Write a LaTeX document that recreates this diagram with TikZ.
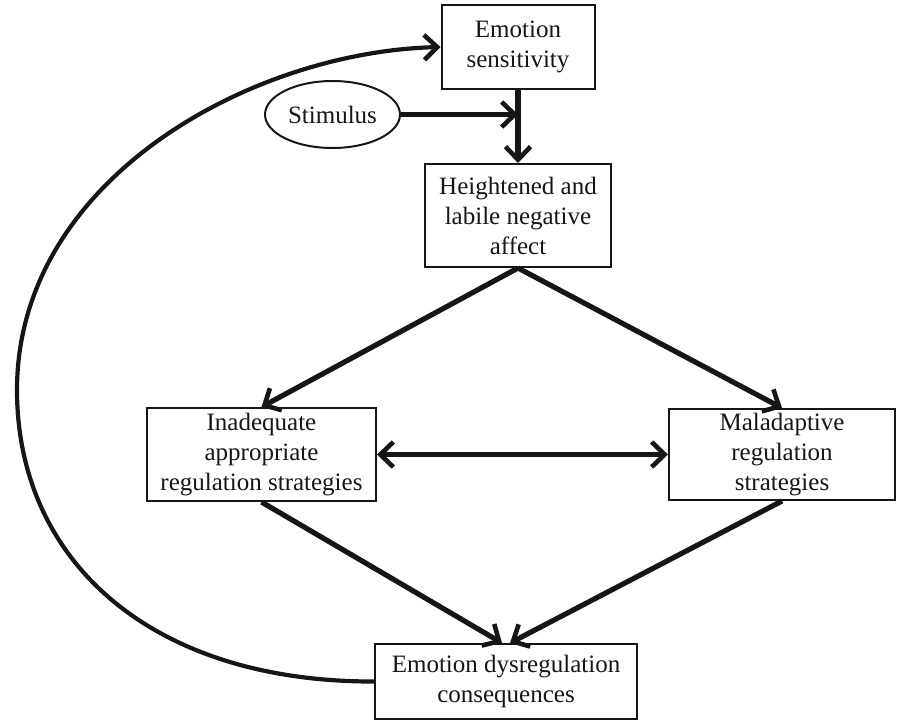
\documentclass[tikz,border=0pt]{standalone}
\usepackage{fontspec}
\setmainfont{Liberation Serif}
\usetikzlibrary{arrows.meta,shapes.geometric}
\definecolor{ink}{rgb}{0.08,0.09,0.08}
\tikzset{barb/.tip={Straight Barb[length=13pt,width=25pt,line width=4.6pt]}}
\begin{document}
\begin{tikzpicture}[x=1pt,y=-1pt,
  every node/.style={font=\fontsize{25}{30}\selectfont, text=ink, align=center, inner sep=0pt},
  box/.style={draw=ink, line width=2pt, rectangle},
  oval/.style={draw=ink, line width=2pt, ellipse},
  conn/.style={draw=ink, line width=5.2pt, -barb},
  both/.style={draw=ink, line width=5.2pt, barb-barb},
  loop/.style={draw=ink, line width=4.2pt, -barb}
]
\useasboundingbox (0,0) rectangle (897,721);

\node[box, minimum width=153pt, minimum height=84pt] (es) at (518,47) {Emotion\\sensitivity};
\node[oval, minimum width=135pt, minimum height=67pt] (stim) at (332.5,114.5) {Stimulus};
\node[box, minimum width=186pt, minimum height=103pt] (hl) at (518,215.5) {Heightened and\\labile negative\\affect};
\node[box, minimum width=229pt, minimum height=93pt] (ia) at (261.5,454.5) {Inadequate\\appropriate\\regulation strategies};
\node[box, minimum width=226pt, minimum height=91pt] (ma) at (782,454.5) {Maladaptive\\regulation\\strategies};
\node[box, minimum width=262pt, minimum height=75pt] (edc) at (506,681.5) {Emotion dysregulation\\consequences};

\coordinate (meet) at (es.south |- stim.east);

\draw[conn] (es.south) -- (hl.north);
\draw[conn] (stim.east) -- (meet);
\draw[conn] (hl.south) -- (ia.north);
\draw[conn] (hl.south) -- (ma.north);
\draw[both] (ia.east) -- (ma.west);
\draw[conn] (ia.south) -- ([xshift=-4pt]edc.north);
\draw[conn] (ma.south) -- ([xshift=4pt]edc.north);
\draw[loop] (edc.west) .. controls (150,682) and (17,560) .. (17,390)
  .. controls (17,180) and (250,52) .. (es.west);
\end{tikzpicture}
\end{document}
